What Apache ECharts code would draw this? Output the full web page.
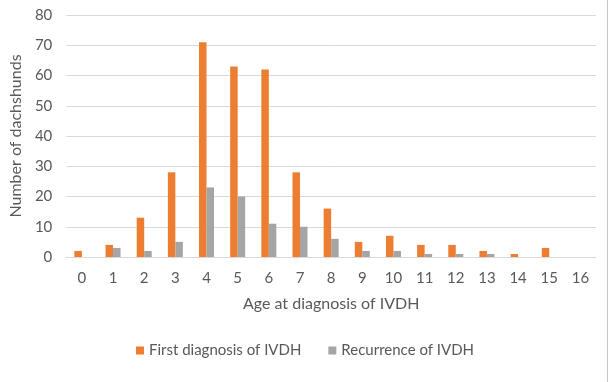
<!DOCTYPE html>
<html><head><meta charset="utf-8">
<script src="https://cdn.jsdelivr.net/npm/echarts@6/dist/echarts.min.js"></script>
<style>html,body{margin:0;padding:0;background:#fff}#c{width:610px;height:382px}</style>
</head><body><div id="c"></div>
<script>
const categories = ['0','1','2','3','4','5','6','7','8','9','10','11','12','13','14','15','16'];
const firstDiagnosis = [2,4,13,28,71,63,62,28,16,5,7,4,4,2,1,3,0];
const recurrence = [0,3,2,5,23,20,11,10,6,2,2,1,1,1,0,0,0];
const yTicks = {min:0, max:80, interval:10};

const chart = echarts.init(document.getElementById('c'), null, {renderer:'canvas'});
const font = 'Lato, "Open Sans", sans-serif';
chart.setOption({
  animation:false,
  grid:{left:61, right:14, top:15, bottom:125},
  graphic:[{type:'line', shape:{x1:607.5, y1:0, x2:607.5, y2:382}, style:{stroke:'#c8c8c8', lineWidth:1}}],
  legend:{
    data:['First diagnosis of IVDH','Recurrence of IVDH'],
    bottom:19, left:'center', itemWidth:8, itemHeight:8, itemGap:27,
    icon:'rect',
    textStyle:{color:'#595959', fontSize:15, fontFamily:font}
  },
  xAxis:{
    type:'category', data:categories,
    name:'Age at diagnosis of IVDH', nameLocation:'middle', nameGap:39,
    nameTextStyle:{color:'#595959', fontSize:16, fontFamily:font},
    axisLine:{lineStyle:{color:'#d9d9d9'}},
    axisTick:{show:false},
    axisLabel:{color:'#595959', fontSize:15, fontFamily:font, margin:14}
  },
  yAxis:{
    type:'value', min:yTicks.min, max:yTicks.max, interval:yTicks.interval,
    name:'Number of dachshunds', nameLocation:'middle', nameGap:38,
    nameTextStyle:{color:'#595959', fontSize:16, fontFamily:font},
    axisLine:{show:false}, axisTick:{show:false},
    axisLabel:{color:'#595959', fontSize:15, fontFamily:font, margin:14},
    splitLine:{lineStyle:{color:'#d9d9d9'}}
  },
  series:[
    {name:'First diagnosis of IVDH', type:'bar', data:firstDiagnosis, barWidth:7.5, barGap:'0%', itemStyle:{color:'#ED7D31'}},
    {name:'Recurrence of IVDH', type:'bar', data:recurrence, barWidth:7.5, barGap:'0%', itemStyle:{color:'#A5A5A5'}}
  ]
});
</script></body></html>
